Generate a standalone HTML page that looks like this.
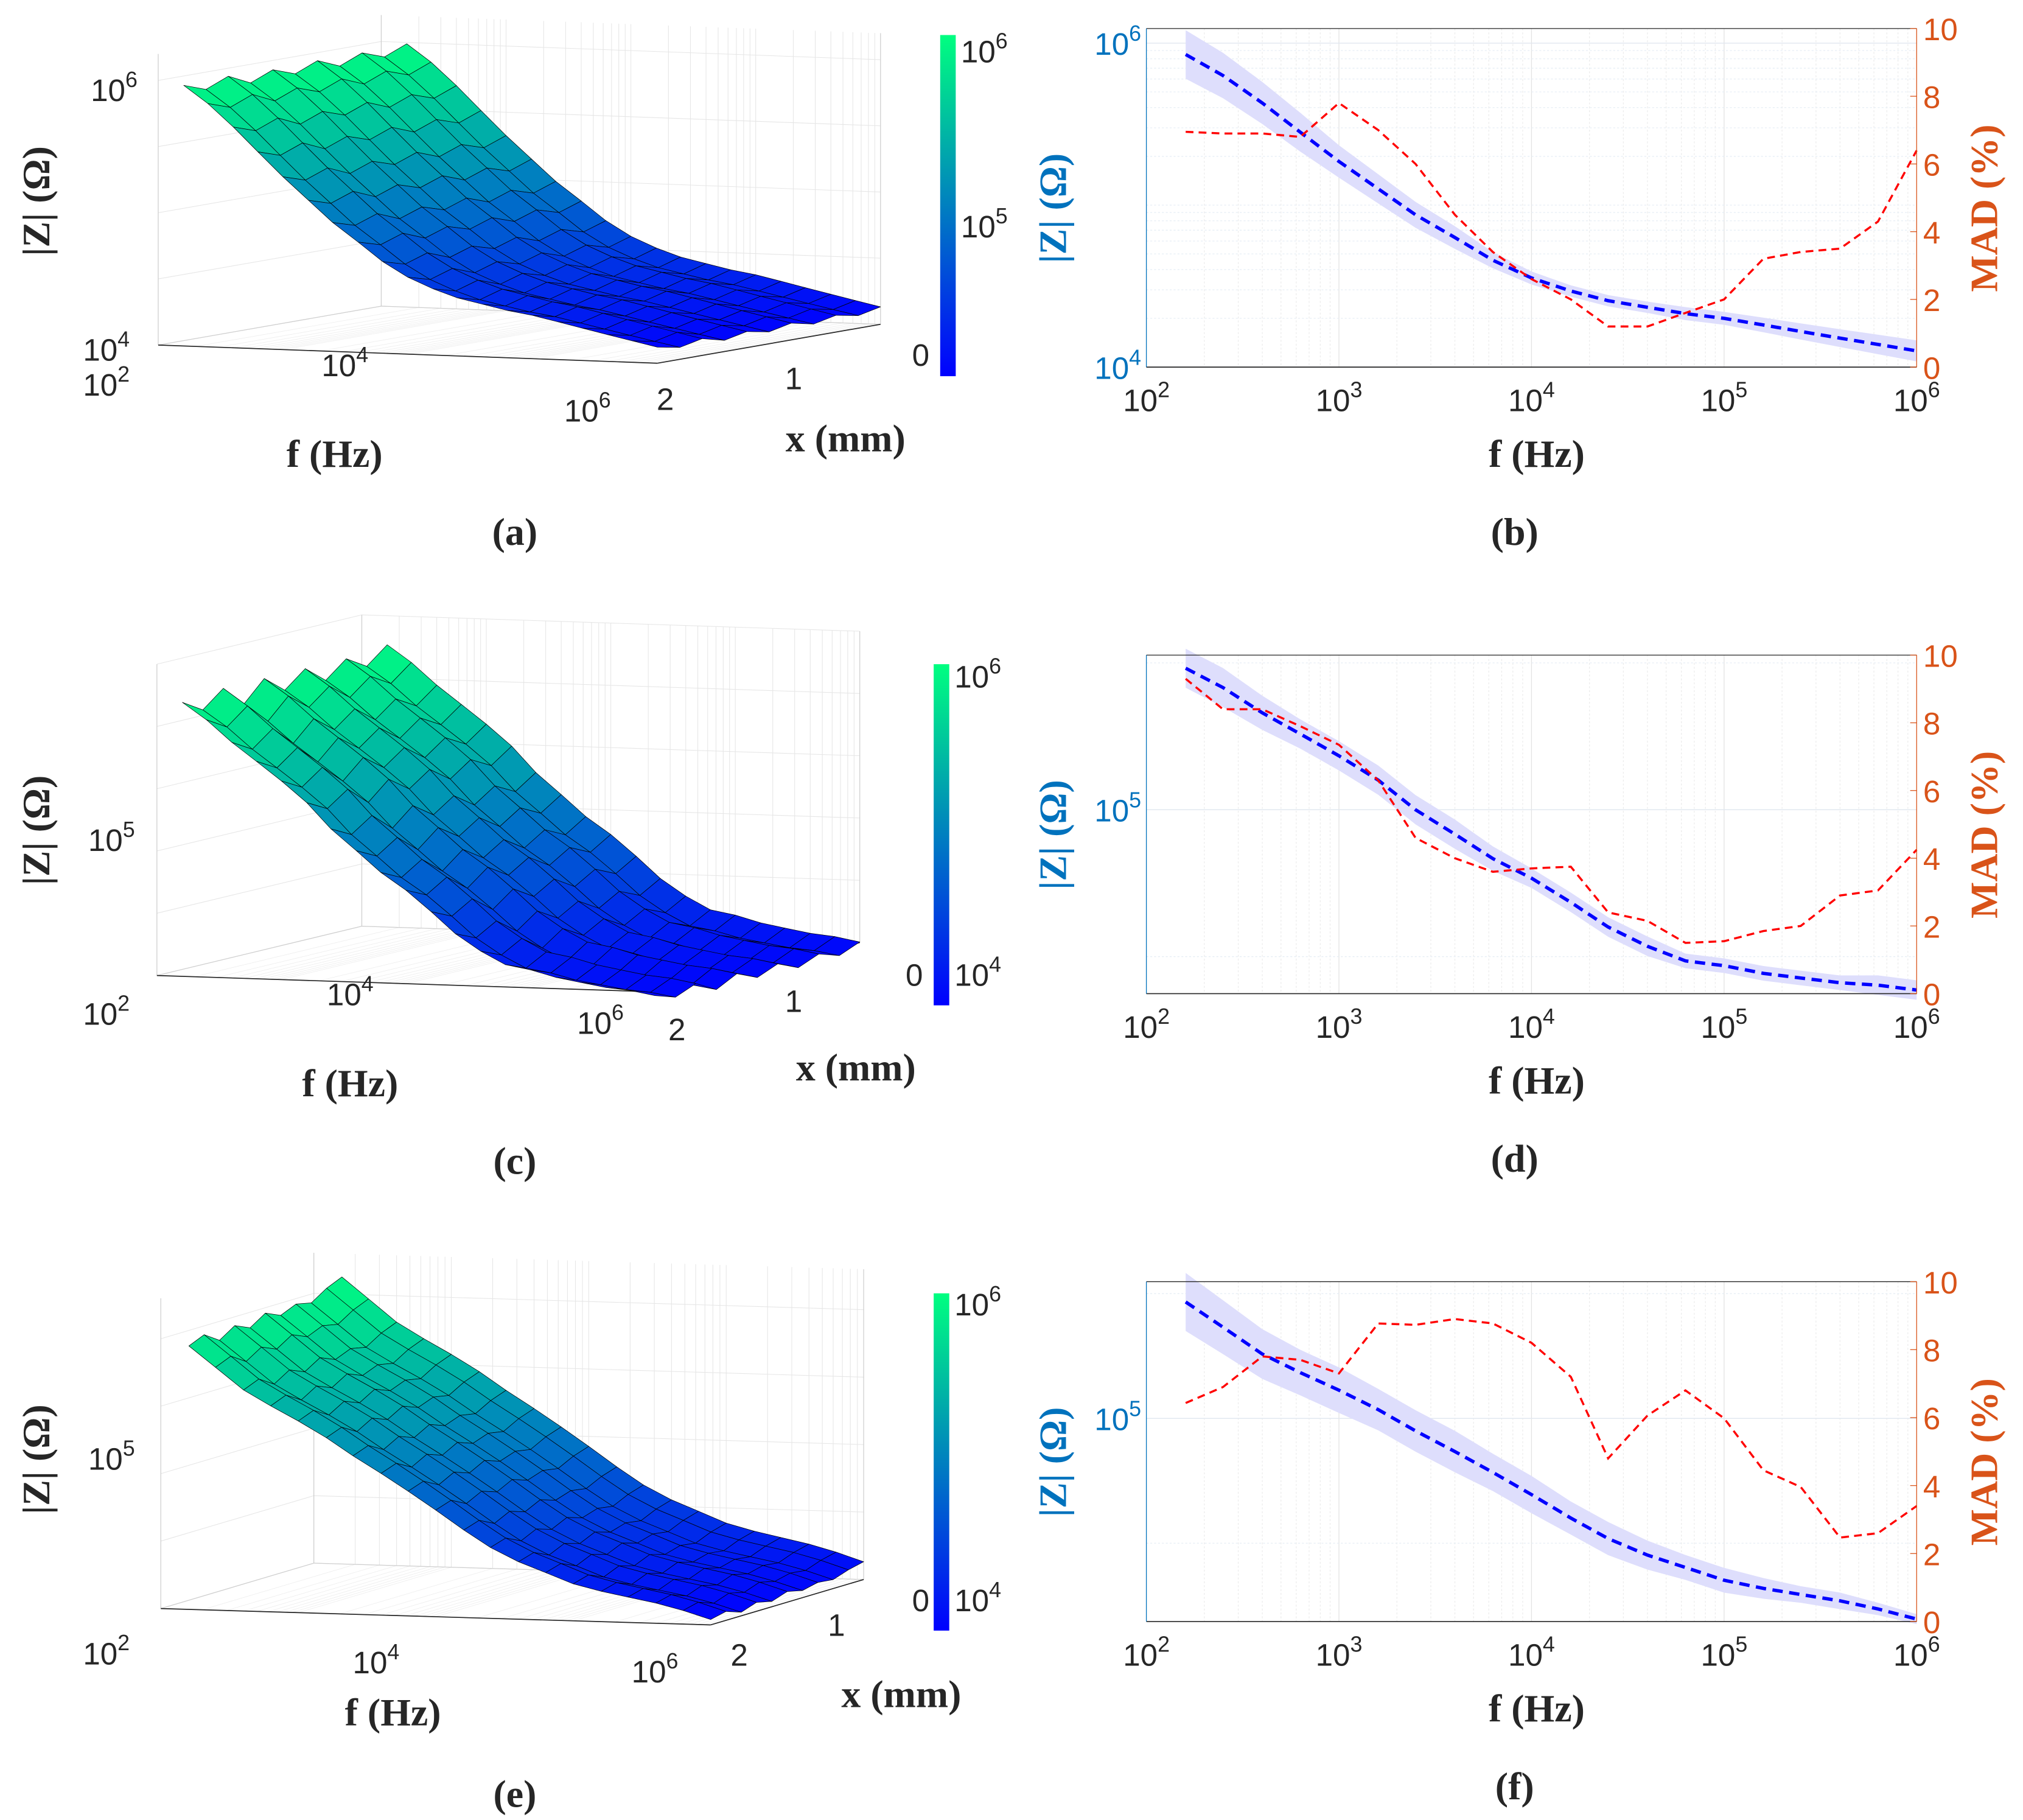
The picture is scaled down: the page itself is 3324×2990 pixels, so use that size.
<!DOCTYPE html>
<html><head><meta charset="utf-8"><title>Impedance figure</title>
<style>html,body{margin:0;padding:0;background:#fff;}svg{display:block;}</style></head>
<body>
<svg id="fig" xmlns="http://www.w3.org/2000/svg" width="3324" height="2990" viewBox="0 0 1560 1403" preserveAspectRatio="none" font-family="'Liberation Sans', sans-serif"></svg>
<script>
// ---------- data ----------
const freqs = [160,250,400,630,1000,1600,2500,4000,6300,10000,16000,25000,40000,63000,100000,160000,250000,400000,630000,1000000];
const zB = [851000,631000,427000,282000,186000,126000,87100,63100,45700,35500,29500,25700,23400,21400,20000,18200,16600,15100,13800,12600];
const bandB = [0.15,0.14,0.13,0.12,0.1,0.09,0.08,0.07,0.05,0.04,0.035,0.035,0.035,0.04,0.04,0.045,0.05,0.055,0.06,0.065];
const madB = [6.95,6.9,6.9,6.8,7.8,7.0,6.0,4.5,3.4,2.6,2.0,1.2,1.2,1.6,2.0,3.2,3.4,3.5,4.3,6.4];
const zD = [195000,178000,158000,143000,129000,115000,100000,89100,79400,72400,64600,57500,52500,49000,47900,46200,45200,44200,43700,42700];
const bandD = [0.04,0.04,0.035,0.03,0.03,0.03,0.03,0.03,0.025,0.02,0.02,0.02,0.02,0.015,0.015,0.015,0.015,0.015,0.02,0.02];
const madD = [9.3,8.4,8.4,7.9,7.35,6.3,4.6,4.0,3.6,3.7,3.75,2.4,2.15,1.5,1.55,1.85,2.0,2.9,3.05,4.25];
const zF = [191000,166000,143000,129000,117000,105000,93300,83200,74100,65500,57500,51300,46800,43700,40700,38900,37600,36300,34700,32800];
const bandF = [0.07,0.065,0.06,0.055,0.055,0.05,0.05,0.05,0.045,0.045,0.04,0.04,0.035,0.03,0.03,0.025,0.02,0.02,0.015,0.012];
const madF = [6.43,6.9,7.8,7.7,7.3,8.77,8.73,8.9,8.77,8.2,7.2,4.8,6.06,6.8,5.98,4.45,3.96,2.47,2.6,3.4];
const xPos = [2,1.8,1.6,1.4,1.2,1.0,0.8,0.6,0.4,0.2,0];
const ripA = [0.04,-0.02,0.05,-0.03,0.04,-0.02,0.05,-0.02,0.05,-0.01,0.06];
const ripC = [0.02,-0.01,0.03,-0.02,0.03,-0.01,0.03,-0.01,0.03,0.0,0.04];
const ripE = [0.0,0.02,-0.01,0.02,0.0,0.03,0.01,0.03,0.02,0.05,0.07];
const madTicks = [0,2,4,6,8,10];
const fTickExp = [2,3,4,5,6];

const NS='http://www.w3.org/2000/svg';
const svg=document.getElementById('fig');
const TS=24, TT=30;
function mk(tag,attrs,parent){const e=document.createElementNS(NS,tag);for(const k in attrs)e.setAttribute(k,attrs[k]);(parent||svg).appendChild(e);return e;}
function pow10(parent,x,y,exp,size,anchor,fill){
  const t=mk('text',{x:x,y:y,'font-size':size,'text-anchor':anchor||'middle',fill:fill||'#262626'},parent);
  t.appendChild(document.createTextNode('10'));
  const s=mk('tspan',{dy:-size*0.45,'font-size':size*0.7},t);s.textContent=String(exp);
  return t;
}
function serifText(parent,x,y,str,size,fill,rot){
  const t=mk('text',{x:x,y:y,'font-size':size,'text-anchor':'middle','font-family':"'Liberation Serif', serif",'font-weight':'bold',fill:fill||'#262626'},parent);
  if(rot)t.setAttribute('transform','rotate('+rot+' '+x+' '+y+')');
  t.textContent=str;return t;
}

// ---------- 2D panels ----------
function panel2D(name,y0,y1,ylo,yhi,zs,band,mad,yMajor,yMinorGrid,cap){
  const g=mk('g',{});
  
  
  const x0=884,x1=1478;
  const X=f=>x0+(Math.log10(f)-2)/4*(x1-x0);
  const Y=v=>y1-(Math.log10(v)-ylo)/(yhi-ylo)*(y1-y0);
  const Ym=m=>y1-m/10*(y1-y0);
  const grid=mk('g',{},g);
  
  
  for(let e=2;e<6;e++)for(let m=1;m<10;m++){const xx=X(m*Math.pow(10,e));
    mk('line',{x1:xx,x2:xx,y1:y0,y2:y1,stroke:m==1?'#e2e2e2':'#ececec','stroke-width':0.6,'stroke-dasharray':m==1?'':'1.5,1.5'},grid);}
  yMinorGrid.forEach(v=>{const yy=Y(v);mk('line',{x1:x0,x2:x1,y1:yy,y2:yy,stroke:'#e6eef5','stroke-width':0.6,'stroke-dasharray':'1.5,1.5'},grid);});
  yMajor.forEach(e=>{const yy=Y(Math.pow(10,e));mk('line',{x1:x0,x2:x1,y1:yy,y2:yy,stroke:'#e2e8f0','stroke-width':0.7},grid);});
  let pts=[];
  freqs.forEach((f,i)=>pts.push(X(f)+','+(y1-(Math.log10(zs[i])+band[i]-ylo)/(yhi-ylo)*(y1-y0))));
  for(let i=freqs.length-1;i>=0;i--)pts.push(X(freqs[i])+','+(y1-(Math.log10(zs[i])-band[i]-ylo)/(yhi-ylo)*(y1-y0)));
  const b=mk('polygon',{points:pts.join(' '),fill:'#dedefc',stroke:'none'},g);
  
  
  const zl=mk('polyline',{points:freqs.map((f,i)=>X(f)+','+Y(zs[i])).join(' '),fill:'none',stroke:'#0000ff','stroke-width':2.6,'stroke-dasharray':'8,5'},g);
  
  
  const ml=mk('polyline',{points:freqs.map((f,i)=>X(f)+','+Ym(mad[i])).join(' '),fill:'none',stroke:'#ff0000','stroke-width':1.6,'stroke-dasharray':'6,4'},g);
  
  
  mk('line',{x1:x0,x2:x1,y1:y1,y2:y1,stroke:'#262626','stroke-width':0.8},g);
  mk('line',{x1:x0,x2:x1,y1:y0,y2:y0,stroke:'#262626','stroke-width':0.6},g);
  mk('line',{x1:x0,x2:x0,y1:y0,y2:y1,stroke:'#0072BD','stroke-width':0.6},g);
  mk('line',{x1:x1,x2:x1,y1:y0,y2:y1,stroke:'#D95319','stroke-width':0.6},g);
  fTickExp.forEach(e=>{const xx=X(Math.pow(10,e));
    const t=pow10(g,xx,y1+34,e,TS);
    
    });
  yMajor.forEach(e=>{const yy=Y(Math.pow(10,e));
    const t=pow10(g,x0-4,yy+9,e,TS,'end','#0072BD');
    
    });
  madTicks.forEach(m=>{const yy=Ym(m);
    mk('line',{x1:x1-5,x2:x1,y1:yy,y2:yy,stroke:'#D95319','stroke-width':0.6},g);
    const t=mk('text',{x:x1+5,y:yy+9,'font-size':TS,fill:'#D95319'},g);t.textContent=m;
    
    });
  const cy=(y0+y1)/2;
  const lt=serifText(g,822,cy+8,'|Z| (Ω)',TT,'#0072BD',-90);
  
  
  const rt=serifText(g,1540,cy+8,'MAD (%)',TT,'#D95319',-90);
  
  
  const xt=serifText(g,1185,y1+77,'f (Hz)',TT);
  
  
  const c=serifText(g,1168,y1+137,cap,TT);
  
  
}
panel2D('panel-b',22,283,4,6.09,zB,bandB,madB,[4,6],[2e4,3e4,4e4,5e4,6e4,7e4,8e4,9e4,1e5,2e5,3e5,4e5,5e5,6e5,7e5,8e5,9e5],'(b)');
panel2D('panel-d',505,766,4.623,5.317,zD,bandD,madD,[5],[5e4,2e5],'(d)');
panel2D('panel-f',988,1250,4.51,5.33,zF,bandF,madF,[5],[5e4,2e5],'(f)');

// ---------- 3D panels ----------
function panel3D(o){
  const g=mk('g',{});
  
  
  const P=(u,w,lz)=>[o.X0+o.ax*u+o.bx*w, o.Y0+o.cy*u+o.dy*w-o.k*(lz-o.L0)];
  const U=f=>(Math.log10(f)-2)/4;
  const W=x=>(2-x)/2;
  const grid=mk('g',{},g);
  
  
  const top=o.L0+o.zTopSpan;
  for(let e=2;e<6;e++)for(let m=1;m<10;m++){const u=U(m*Math.pow(10,e));
    const a=P(u,1,o.L0),b=P(u,1,top),c=P(u,0,o.L0);
    mk('line',{x1:a[0],y1:a[1],x2:b[0],y2:b[1],stroke:'#e6e6e6','stroke-width':0.5},grid);
    mk('line',{x1:a[0],y1:a[1],x2:c[0],y2:c[1],stroke:'#eeeeee','stroke-width':0.4},grid);}
  for(let s=0;s<=o.zTopSpan+1e-6;s+=o.zGridStep){const lz=o.L0+s;
    const a=P(0,0,lz),b=P(0,1,lz),c=P(1,1,lz);
    mk('polyline',{points:a.join(',')+' '+b.join(',')+' '+c.join(','),fill:'none',stroke:'#e6e6e6','stroke-width':0.5},grid);}
  [[P(0,0,o.L0),P(0,0,top)],[P(0,1,o.L0),P(0,1,top)],[P(1,1,o.L0),P(1,1,top)],[P(0,0,o.L0),P(1,0,o.L0)],[P(1,0,o.L0),P(1,1,o.L0)],[P(0,0,o.L0),P(0,1,o.L0)],[P(0,1,o.L0),P(1,1,o.L0)]].forEach(s=>
    mk('line',{x1:s[0][0],y1:s[0][1],x2:s[1][0],y2:s[1][1],stroke:'#cfcfcf','stroke-width':0.6},grid));
  const fe=[P(0,0,o.L0),P(1,0,o.L0)];
  mk('line',{x1:fe[0][0],y1:fe[0][1],x2:fe[1][0],y2:fe[1][1],stroke:'#262626','stroke-width':0.8},g);
  const xe=[P(1,0,o.L0),P(1,1,o.L0)];
  mk('line',{x1:xe[0][0],y1:xe[0][1],x2:xe[1][0],y2:xe[1][1],stroke:'#262626','stroke-width':0.8},g);
  const L=freqs.map((f,i)=>xPos.map((x,j)=>Math.log10(o.base[i])+o.rip[j]*(1-0.5*i/freqs.length)));
  let mn=Infinity,mx=-Infinity;L.forEach(r=>r.forEach(v=>{mn=Math.min(mn,v);mx=Math.max(mx,v);}));
  const surf=mk('g',{},g);
  
  
  for(let j=xPos.length-1;j>0;j--)for(let i=0;i<freqs.length-1;i++){
    const q=[[i,j],[i+1,j],[i+1,j-1],[i,j-1]].map(([a,b])=>P(U(freqs[a]),W(xPos[b]),L[a][b]));
    const avg=(L[i][j]+L[i+1][j]+L[i+1][j-1]+L[i][j-1])/4;
    const t=Math.max(0,Math.min(1,(avg-mn)/(mx-mn)));
    const col='rgb(0,'+Math.round(255*t)+','+Math.round(255*(1-0.5*t))+')';
    const p=mk('polygon',{points:q.map(v=>v.join(',')).join(' '),fill:col,stroke:'#000','stroke-width':0.35,'stroke-linejoin':'round'},surf);
    
    
  }
  const defs=mk('defs',{},g);
  const lg=mk('linearGradient',{id:'grad'+o.name,x1:0,y1:1,x2:0,y2:0},defs);
  mk('stop',{offset:0,'stop-color':'rgb(0,0,255)'},lg);mk('stop',{offset:1,'stop-color':'rgb(0,255,128)'},lg);
  const cb=mk('rect',{x:o.cb[0],y:o.cb[1],width:12,height:o.cb[2]-o.cb[1],fill:'url(#grad'+o.name+')'},g);
  
  
  o.cbl.forEach(l=>{const t=pow10(g,o.cb[0]+16,l[1],l[0],TS,'start');
    
    });
  o.zt.forEach(l=>{const t=pow10(g,l[1],l[2],l[0],TS,'middle');
    
    });
  o.ft.forEach(l=>{const t=pow10(g,l[1],l[2],l[0],TS,'middle');
    
    });
  o.xt.forEach(l=>{const t=mk('text',{x:l[1],y:l[2],'font-size':TS,'text-anchor':'middle',fill:'#262626'},g);t.textContent=l[0];
    
    });
  const zt=serifText(g,38,o.zTitleY,'|Z| (Ω)',TT,'#262626',-90);
  
  
  const ft=serifText(g,o.fTitle[0],o.fTitle[1],'f (Hz)',TT);
  
  
  const xt=serifText(g,o.xTitle[0],o.xTitle[1],'x (mm)',TT);
  
  
  const c=serifText(g,397,o.capY,o.cap,TT);
  
  
}
panel3D({name:'panel-a',base:zB,rip:ripA,X0:122,ax:385,bx:172,Y0:266,cy:14,dy:-30,k:102,L0:4,zTopSpan:2.2,zGridStep:0.5,
  cb:[725,27,290],cbl:[[6,48],[5,183]],zt:[[6,88,78],[4,82,278],[2,82,305]],ft:[[4,266,290],[6,453,325]],
  xt:[['0',710,282],['1',612,300],['2',513,316]],zTitleY:155,fTitle:[258,360],xTitle:[652,348],cap:'(a)',capY:420});
panel3D({name:'panel-c',base:zD,rip:ripC,X0:121,ax:384,bx:158,Y0:752,cy:12.6,dy:-38,k:320,L0:4.65,zTopSpan:0.75,zGridStep:0.15,
  cb:[720,512,775],cbl:[[6,530],[4,760]],zt:[[5,86,656],[2,82,790]],ft:[[4,270,775],[6,463,797]],
  xt:[['0',705,760],['1',612,780],['2',522,802]],zTitleY:640,fTitle:[270,845],xTitle:[660,833],cap:'(c)',capY:905});
panel3D({name:'panel-e',base:zF,rip:ripE,X0:124,ax:424,bx:118,Y0:1240,cy:12.6,dy:-35,k:260,L0:4.5,zTopSpan:0.92,zGridStep:0.2,
  cb:[720,997,1257],cbl:[[6,1014],[4,1242]],zt:[[5,86,1133],[2,82,1283]],ft:[[4,290,1290],[6,505,1297]],
  xt:[['0',710,1242],['1',645,1261],['2',570,1284]],zTitleY:1125,fTitle:[303,1330],xTitle:[695,1316],cap:'(e)',capY:1393});
</script>
</body></html>
